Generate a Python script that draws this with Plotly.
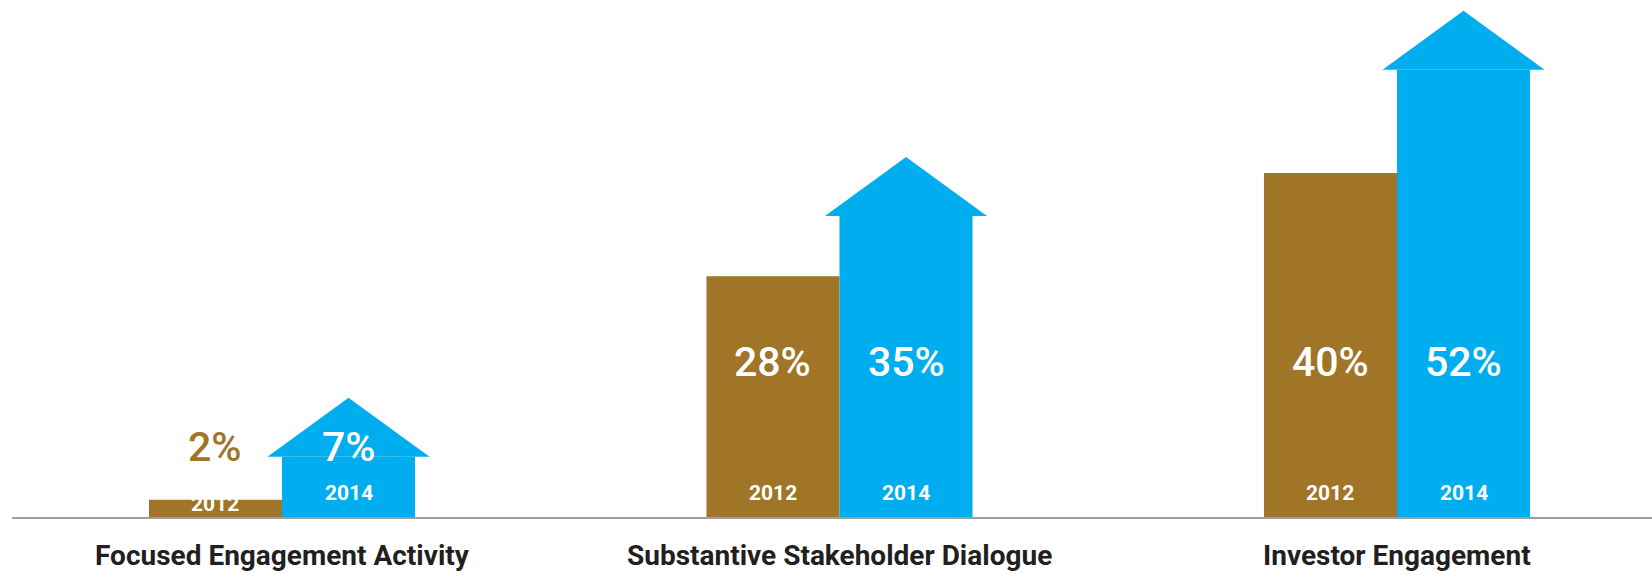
import plotly.graph_objects as go

# ---- data ----
categories = ["Focused Engagement Activity", "Substantive Stakeholder Dialogue", "Investor Engagement"]
years = ["2012", "2014"]
values_2012 = [2, 28, 40]
values_2014 = [7, 35, 52]

GOLD = "#A07527"
BLUE = "#00AEEF"
FONT = "Roboto, Liberation Sans Narrow, DejaVu Sans Condensed, sans-serif"

# ---- layout constants (px -> axis units) ----
PX_PER_UNIT = 8.6
BAR_W = 0.2386
HEAD_H = 59 / PX_PER_UNIT
HEAD_HALF = 0.1453

x_pos = list(range(len(categories)))

fig = go.Figure()
fig.add_trace(go.Bar(x=x_pos, y=values_2012, width=[BAR_W] * 3, offset=-BAR_W,
                     marker=dict(color=GOLD, line=dict(width=0)), hoverinfo="skip",
                     name=years[0]))
fig.add_trace(go.Bar(x=x_pos, y=values_2014, width=[BAR_W] * 3, offset=0,
                     marker=dict(color=BLUE, line=dict(width=0)), hoverinfo="skip",
                     name=years[1]))

# arrow heads on 2014 bars
for i, v in zip(x_pos, values_2014):
    cx = i + BAR_W / 2
    fig.add_trace(go.Scatter(
        x=[cx - HEAD_HALF, cx, cx + HEAD_HALF, cx - HEAD_HALF],
        y=[v, v + HEAD_H, v, v],
        mode="lines", fill="toself", fillcolor=BLUE,
        line=dict(color=BLUE, width=0), hoverinfo="skip", showlegend=False))

annotations = []
for i, (a, b) in enumerate(zip(values_2012, values_2014)):
    big = min(a, b) > 20
    label_y = 18.0 if big else 8.1
    annotations.append(dict(x=i - BAR_W / 2, y=label_y, text=f"{a}%", showarrow=False,
                            font=dict(family=FONT, size=41, color="white" if big else GOLD, weight=500),
                            xanchor="center", yanchor="middle"))
    annotations.append(dict(x=i + BAR_W / 2, y=label_y, text=f"{b}%", showarrow=False,
                            font=dict(family=FONT, size=41, color="white", weight=500),
                            xanchor="center", yanchor="middle"))
    annotations.append(dict(x=i - BAR_W / 2, y=min(2.8, a / 2 + 0.5), text=f"<b>{years[0]}</b>",
                            showarrow=False, font=dict(family=FONT, size=21, color="white"),
                            xanchor="center", yanchor="middle"))
    annotations.append(dict(x=i + BAR_W / 2, y=2.8, text=f"<b>{years[1]}</b>",
                            showarrow=False, font=dict(family=FONT, size=21, color="white"),
                            xanchor="center", yanchor="middle"))
    annotations.append(dict(x=i, y=-0.075, yref="paper", text=f"<b>{categories[i]}</b>",
                            showarrow=False, font=dict(family=FONT, size=28, color="#231F20"),
                            xanchor="center", yanchor="middle"))

spacing = 557.5
x_left = (12 - 282) / spacing
x_right = x_left + 1640 / spacing

fig.update_layout(
    width=1652, height=574, autosize=False,
    margin=dict(l=12, r=0, t=0, b=57, pad=0),
    paper_bgcolor="white", plot_bgcolor="white",
    showlegend=False, barmode="overlay",
    xaxis=dict(range=[x_left, x_right], showgrid=False, zeroline=False, showticklabels=False,
               ticks="", showline=True, linecolor="#9D9D9D", linewidth=2, fixedrange=True),
    yaxis=dict(range=[0, 517 / PX_PER_UNIT], showgrid=False, zeroline=False, showticklabels=False,
               ticks="", showline=False, fixedrange=True),
    annotations=annotations,
)

fig.write_html("out.html", config={"displayModeBar": False},
               post_script="document.body.style.margin='0';document.body.style.overflow='hidden';")
